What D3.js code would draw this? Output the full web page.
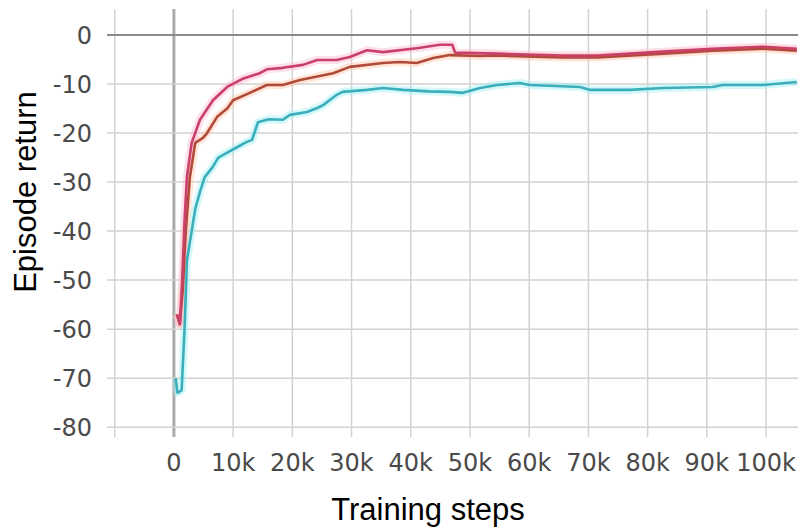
<!DOCTYPE html>
<html>
<head>
<meta charset="utf-8">
<script src="https://d3js.org/d3.v7.min.js"></script>
<style>
  body { margin: 0; background: #fff; }
  .tick-label { font-family: 'DejaVu Sans', sans-serif; font-size: 24px; fill: #4a4a4a; }
  .axis-title { font-family: 'Liberation Sans', Arial, sans-serif; font-size: 31px; fill: #000; }
</style>
</head>
<body>
<div id="chart"></div>
<script>
// x ticks (training steps) and y ticks (episode return)
var xTicks = [-10000, 0, 10000, 20000, 30000, 40000, 50000, 60000, 70000, 80000, 90000, 100000];
var xTickLabels = ["", "0", "10k", "20k", "30k", "40k", "50k", "60k", "70k", "80k", "90k", "100k"];
var yTicks = [0, -10, -20, -30, -40, -50, -60, -70, -80];

// pink run (k steps, return)
var pinkSteps = [0.5, 1.0, 1.4, 1.8, 2.2, 3.0, 4.4, 6.6, 9.0, 11.5, 14.5, 15.7, 18.4, 21.8, 24.2, 27.5, 29.7, 32.6, 35.3, 41.0, 44.9, 47.0, 47.5, 54.6, 65.7, 71.5, 82.6, 91.0, 99.5, 105.2];
var pinkValues = [-57, -59, -50, -38, -29, -22, -17.3, -13.3, -10.6, -9.0, -7.8, -7.0, -6.7, -6.1, -5.1, -5.1, -4.5, -3.1, -3.5, -2.7, -2.0, -2.0, -3.6, -3.8, -4.2, -4.2, -3.4, -2.8, -2.4, -2.8];

// brown run
var brownSteps = [0.5, 1.0, 1.5, 2.0, 2.7, 3.6, 4.9, 5.6, 7.3, 9.0, 10.0, 12.8, 15.7, 18.4, 21.3, 26.9, 29.7, 35.3, 38.2, 41.0, 43.8, 46.6, 51.7, 54.6, 65.7, 71.5, 82.6, 91.0, 99.5, 105.2];
var brownValues = [-57, -59, -52, -40, -29, -22, -21, -20, -16.7, -15.0, -13.3, -11.8, -10.2, -10.2, -9.2, -7.8, -6.5, -5.7, -5.5, -5.7, -4.7, -4.1, -4.3, -4.2, -4.6, -4.6, -3.8, -3.2, -2.8, -3.2];

// teal run
var tealSteps = [0.3, 0.6, 1.3, 1.8, 2.2, 3.0, 3.6, 4.4, 5.2, 6.5, 7.5, 9.0, 10.5, 12.3, 13.2, 14.2, 16.0, 18.4, 19.6, 22.5, 24.2, 25.2, 27.5, 28.5, 32.6, 35.3, 38.7, 43.0, 46.6, 48.8, 51.7, 54.6, 58.4, 60.1, 68.6, 70.3, 77.0, 82.6, 91.0, 92.7, 99.5, 105.2];
var tealValues = [-70, -73, -72.5, -60, -46, -40, -35.5, -32, -29, -27, -25, -24, -23, -21.8, -21.4, -17.8, -17.2, -17.3, -16.3, -15.7, -14.9, -14.3, -12.2, -11.6, -11.2, -10.8, -11.2, -11.5, -11.6, -11.8, -10.8, -10.2, -9.8, -10.2, -10.6, -11.2, -11.2, -10.8, -10.6, -10.2, -10.2, -9.6];

var width = 804, height = 527;
var plot = { left: 107, right: 798, top: 9, bottom: 437 };

var svg = d3.select("#chart").append("svg")
  .attr("width", width)
  .attr("height", height);

var x = d3.scaleLinear().domain([-11300, 105400]).range([plot.left, plot.right]);
var y = d3.scaleLinear().domain([-82, 5.3]).range([plot.bottom, plot.top]);

// grid
svg.append("g").selectAll("line.v")
  .data(xTicks).enter().append("line")
  .attr("x1", function (d) { return x(d); })
  .attr("x2", function (d) { return x(d); })
  .attr("y1", plot.top).attr("y2", plot.bottom)
  .style("stroke", function (d) { return d === 0 ? "#aaa" : "#d2d2d2"; })
  .style("stroke-width", function (d) { return d === 0 ? 3 : 1.5; });

svg.append("g").selectAll("line.h")
  .data(yTicks).enter().append("line")
  .attr("x1", plot.left).attr("x2", plot.right)
  .attr("y1", function (d) { return y(d); })
  .attr("y2", function (d) { return y(d); })
  .style("stroke", function (d) { return d === 0 ? "#8a8a8a" : "#d2d2d2"; })
  .style("stroke-width", function (d) { return d === 0 ? 2 : 1.5; });

// tick labels
svg.append("g").selectAll("text")
  .data(yTicks).enter().append("text")
  .attr("class", "tick-label")
  .attr("x", 92)
  .attr("y", function (d) { return y(d); })
  .attr("dy", "0.36em")
  .style("text-anchor", "end")
  .text(function (d) { return d; });

svg.append("g").selectAll("text")
  .data(xTicks).enter().append("text")
  .attr("class", "tick-label")
  .attr("x", function (d) { return x(d); })
  .attr("y", 471)
  .style("text-anchor", "middle")
  .text(function (d, i) { return xTickLabels[i]; });

// curves
var line = d3.line()
  .x(function (d) { return x(d[0] * 1000); })
  .y(function (d) { return y(d[1]); });

var series = [
  { steps: tealSteps, values: tealValues, color: "#3aaebb", halo: "#9ff0f5" },
  { steps: brownSteps, values: brownValues, color: "#b24a3a", halo: "#ffc8a8" },
  { steps: pinkSteps, values: pinkValues, color: "#c9406a", halo: "#ffb8cf" }
];

series.forEach(function (s) {
  var pts = d3.zip(s.steps, s.values);
  svg.append("path")
    .datum(pts)
    .attr("d", line)
    .style("fill", "none")
    .style("stroke", s.halo)
    .style("stroke-opacity", 0.45)
    .style("stroke-width", 8)
    .style("stroke-linejoin", "round");
});

series.forEach(function (s) {
  var pts = d3.zip(s.steps, s.values);
  svg.append("path")
    .datum(pts)
    .attr("d", line)
    .style("fill", "none")
    .style("stroke", s.color)
    .style("stroke-width", 2.6)
    .style("stroke-linejoin", "round");
});

// axis titles
svg.append("text")
  .attr("class", "axis-title")
  .attr("x", 428)
  .attr("y", 520)
  .style("text-anchor", "middle")
  .text("Training steps");

svg.append("text")
  .attr("class", "axis-title")
  .attr("transform", "translate(36,192) rotate(-90)")
  .style("text-anchor", "middle")
  .text("Episode return");
</script>
</body>
</html>
